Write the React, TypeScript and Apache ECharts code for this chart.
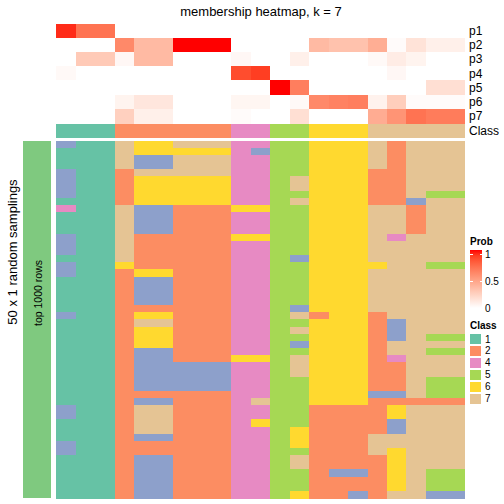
import React, { useEffect, useRef } from "react";
import * as echarts from "echarts";

const sampleIds = ["s1","s2","s3","s4","s5","s6","s7","s8","s9","s10","s11","s12","s13","s14","s15","s16","s17","s18","s19","s20","s21"];
const probLabels = ["p1", "p2", "p3", "p4", "p5", "p6", "p7"];
const p1 = [0.93,0.7,0.7,0,0,0,0,0,0,0,0,0,0,0,0,0,0,0,0,0,0];
const p2 = [0,0,0,0.6,0.36,0.36,1,1,1,0,0,0,0,0.36,0.32,0.32,0.42,0.02,0.15,0.08,0.08];
const p3 = [0,0.28,0.28,0.04,0.36,0.36,0,0,0,0.04,0,0,0.08,0,0,0,0.03,0.1,0.06,0,0];
const p4 = [0.03,0,0,0,0,0,0,0,0,0.85,0.9,0,0,0,0,0,0,0.04,0,0,0];
const p5 = [0,0,0,0,0,0,0,0,0,0,0,1,0.65,0,0,0,0,0,0,0.17,0.17];
const p6 = [0,0,0,0.06,0.13,0.13,0,0,0,0.05,0.05,0,0.03,0.6,0.63,0.65,0.07,0.26,0.02,0.02,0.02];
const p7 = [0,0,0,0.25,0.08,0.08,0,0,0,0.02,0,0,0.17,0,0,0,0.43,0.55,0.7,0.66,0.66];
const topClass = [1,1,1,2,2,2,2,2,2,4,4,5,5,6,6,6,7,7,7,7,7];

// 50 random samplings x 21 samples, class per cell
const samplingRows = [
  "311766777445566672777",
  "111766666435566672777",
  "111733777445566672777",
  "111733777445566672777",
  "311277777445566622777",
  "311266666445766622777",
  "311266666445766622777",
  "311266666445566622755",
  "111266666445766622377",
  "411733222665566677277",
  "111733222445566677277",
  "111733222445566677277",
  "111733222445566677277",
  "311722222665566674777",
  "311722222445566677777",
  "311722222445566677777",
  "111722222445366677777",
  "311622222445566667755",
  "311266222445566677777",
  "111233222445566677777",
  "111233222445566677777",
  "111233222445566677777",
  "111233222445566677777",
  "111222222445366677777",
  "311266222445726627777",
  "111277222445566623777",
  "111266222445766623777",
  "111266222445566623755",
  "111266222445366627777",
  "111233222445566627755",
  "111233222665766624777",
  "111233333445766622777",
  "111233333445766622777",
  "111233333445566622755",
  "111233333445566622755",
  "111222222445566633755",
  "111233222475566622222",
  "311277222445522226777",
  "311277222445522226777",
  "111277222465522223777",
  "111277222445622223777",
  "111233222445622277777",
  "311222222445622277777",
  "311222222445522276777",
  "111233222445722226777",
  "111233222445722226777",
  "111233222445523326755",
  "111233222445522226755",
  "111233222445522226755",
  "111233222445622327733",
];

const classIds = [1, 2, 3, 4, 5, 6, 7];
const classColors = ["#66C2A5", "#FC8D62", "#8DA0CB", "#E78AC3", "#A6D854", "#FFD92F", "#E5C494"];
const legendClasses = [1, 2, 4, 5, 6, 7];
const probTicks = [1, 0.5, 0];

const FONT = "'Liberation Sans', Arial, Helvetica, sans-serif";

function labToHex(L: number, a: number, b: number): string {
  const fy = (L + 16) / 116;
  const fx = fy + a / 500;
  const fz = fy - b / 200;
  const d = 6 / 29;
  const inv = (f: number) => (f > d ? f * f * f : 3 * d * d * (f - 4 / 29));
  const X = 0.95047 * inv(fx);
  const Y = inv(fy);
  const Z = 1.08883 * inv(fz);
  const lin = [
    3.2406 * X - 1.5372 * Y - 0.4986 * Z,
    -0.9689 * X + 1.8758 * Y + 0.0415 * Z,
    0.0557 * X - 0.204 * Y + 1.057 * Z,
  ];
  const toS = (c: number) => {
    c = Math.min(1, Math.max(0, c));
    const v = c <= 0.0031308 ? 12.92 * c : 1.055 * Math.pow(c, 1 / 2.4) - 0.055;
    return Math.round(Math.min(1, Math.max(0, v)) * 255);
  };
  return "#" + lin.map((c) => toS(c).toString(16).padStart(2, "0")).join("");
}

// white -> red ramp in LAB space
const WHITE_LAB = [100, 0, 0];
const RED_LAB = [53.2408, 80.0925, 67.2032];
function rampColor(t: number) {
  return labToHex(
    WHITE_LAB[0] + (RED_LAB[0] - WHITE_LAB[0]) * t,
    WHITE_LAB[1] + (RED_LAB[1] - WHITE_LAB[1]) * t,
    WHITE_LAB[2] + (RED_LAB[2] - WHITE_LAB[2]) * t
  );
}
const rampSteps = [0, 0.1, 0.2, 0.3, 0.4, 0.5, 0.6, 0.7, 0.8, 0.9, 1];

export default function App() {
  const ref = useRef<HTMLDivElement>(null);
  useEffect(() => {
    if (!ref.current) return;
    const chart = echarts.init(ref.current, null, { renderer: "svg" });

    const probRows = [p1, p2, p3, p4, p5, p6, p7];
    const probData: number[][] = [];
    probRows.forEach((row, yi) => row.forEach((v, xi) => probData.push([xi, yi, v])));
    const classData = topClass.map((c, xi) => [xi, 0, c]);
    const mainData: number[][] = [];
    samplingRows.forEach((row, yi) =>
      row.split("").forEach((ch, xi) => mainData.push([xi, yi, Number(ch)]))
    );
    const rowIds = samplingRows.map((_, i) => "r" + (i + 1));

    const L = 56.7, W = 408.3;
    const grids = [
      { left: L, top: 24, width: W, height: 99.3 },
      { left: L, top: 124, width: W, height: 13.7 },
      { left: L, top: 141, width: W, height: 357.3 },
    ];
    const labelStyle = { fontSize: 12, color: "#000", margin: 4, fontFamily: FONT, interval: 0 };

    const rampList = rampSteps.map(rampColor);
    const gradStops = rampSteps.map((t) => ({ offset: 1 - t, color: rampColor(t) }));

    const graphics: any[] = [
      {
        type: "text",
        x: 261,
        y: 11,
        style: { text: "membership heatmap, k = 7", fontSize: 13, fontFamily: FONT, fill: "#000", align: "center", verticalAlign: "middle" },
      },
      {
        type: "text",
        x: 12,
        y: 252,
        rotation: Math.PI / 2,
        style: { text: "50 x 1 random samplings", fontSize: 13, fontFamily: FONT, fill: "#000", align: "center", verticalAlign: "middle" },
      },
      { type: "rect", shape: { x: 23, y: 141, width: 27.7, height: 357.3 }, style: { fill: "#7FC97F" } },
      {
        type: "text",
        x: 37.5,
        y: 293,
        rotation: Math.PI / 2,
        style: { text: "top 1000 rows", fontSize: 10.5, fontFamily: FONT, fill: "#000", align: "center", verticalAlign: "middle" },
      },
      {
        type: "text",
        x: 470,
        y: 241,
        style: { text: "Prob", fontSize: 10, fontWeight: "bold", fontFamily: FONT, fill: "#000", verticalAlign: "middle" },
      },
      {
        type: "rect",
        shape: { x: 470, y: 250, width: 12, height: 58 },
        style: { fill: new echarts.graphic.LinearGradient(0, 0, 0, 1, gradStops.slice().reverse()) },
      },
      {
        type: "text",
        x: 470,
        y: 325,
        style: { text: "Class", fontSize: 10, fontWeight: "bold", fontFamily: FONT, fill: "#000", verticalAlign: "middle" },
      },
    ];
    probTicks.forEach((t) => {
      const y = 308 - t * 54;
      if (t > 0) {
        graphics.push({ type: "line", shape: { x1: 470, y1: y, x2: 472.5, y2: y }, style: { stroke: "#fff", lineWidth: 1 } });
        graphics.push({ type: "line", shape: { x1: 479.5, y1: y, x2: 482, y2: y }, style: { stroke: "#fff", lineWidth: 1 } });
      }
      graphics.push({
        type: "text",
        x: 485,
        y,
        style: { text: String(t), fontSize: 10, fontFamily: FONT, fill: "#000", verticalAlign: "middle" },
      });
    });
    legendClasses.forEach((c, i) => {
      const cy = 339 + i * 11.9;
      graphics.push({
        type: "rect",
        shape: { x: 470, y: cy - 5, width: 11, height: 10 },
        style: { fill: classColors[classIds.indexOf(c)] },
      });
      graphics.push({
        type: "text",
        x: 485,
        y: cy,
        style: { text: String(c), fontSize: 10, fontFamily: FONT, fill: "#000", verticalAlign: "middle" },
      });
    });

    const catX = (gi: number) => ({
      type: "category",
      gridIndex: gi,
      data: sampleIds,
      show: false,
    });

    chart.setOption({
      animation: false,
      grid: grids,
      xAxis: [catX(0), catX(1), catX(2)],
      yAxis: [
        {
          type: "category", gridIndex: 0, data: probLabels, inverse: true, position: "right",
          axisLine: { show: false }, axisTick: { show: false }, splitLine: { show: false },
          axisLabel: labelStyle,
        },
        {
          type: "category", gridIndex: 1, data: ["Class"], position: "right",
          axisLine: { show: false }, axisTick: { show: false }, splitLine: { show: false },
          axisLabel: labelStyle,
        },
        {
          type: "category", gridIndex: 2, data: rowIds, inverse: true, show: false,
        },
      ],
      visualMap: [
        {
          type: "continuous", min: 0, max: 1, seriesIndex: 0, show: false,
          inRange: { color: rampList },
        },
        {
          type: "piecewise", seriesIndex: [1, 2], show: false,
          pieces: classIds.map((v, i) => ({ value: v, color: classColors[i] })),
        },
      ],
      series: [
        { type: "heatmap", xAxisIndex: 0, yAxisIndex: 0, data: probData, silent: true, progressive: 0, itemStyle: { borderWidth: 0 }, emphasis: { disabled: true } },
        { type: "heatmap", xAxisIndex: 1, yAxisIndex: 1, data: classData, silent: true, progressive: 0, itemStyle: { borderWidth: 0 }, emphasis: { disabled: true } },
        { type: "heatmap", xAxisIndex: 2, yAxisIndex: 2, data: mainData, silent: true, progressive: 0, itemStyle: { borderWidth: 0 }, emphasis: { disabled: true } },
      ],
      graphic: graphics,
    });
    return () => chart.dispose();
  }, []);
  return (
    <>
      <style>{"#hm-root svg path { shape-rendering: crispEdges; }"}</style>
      <div
        id="hm-root"
        ref={ref}
        style={{ position: "absolute", left: 0, top: 0, width: 504, height: 504, background: "#fff" }}
      />
    </>
  );
}
